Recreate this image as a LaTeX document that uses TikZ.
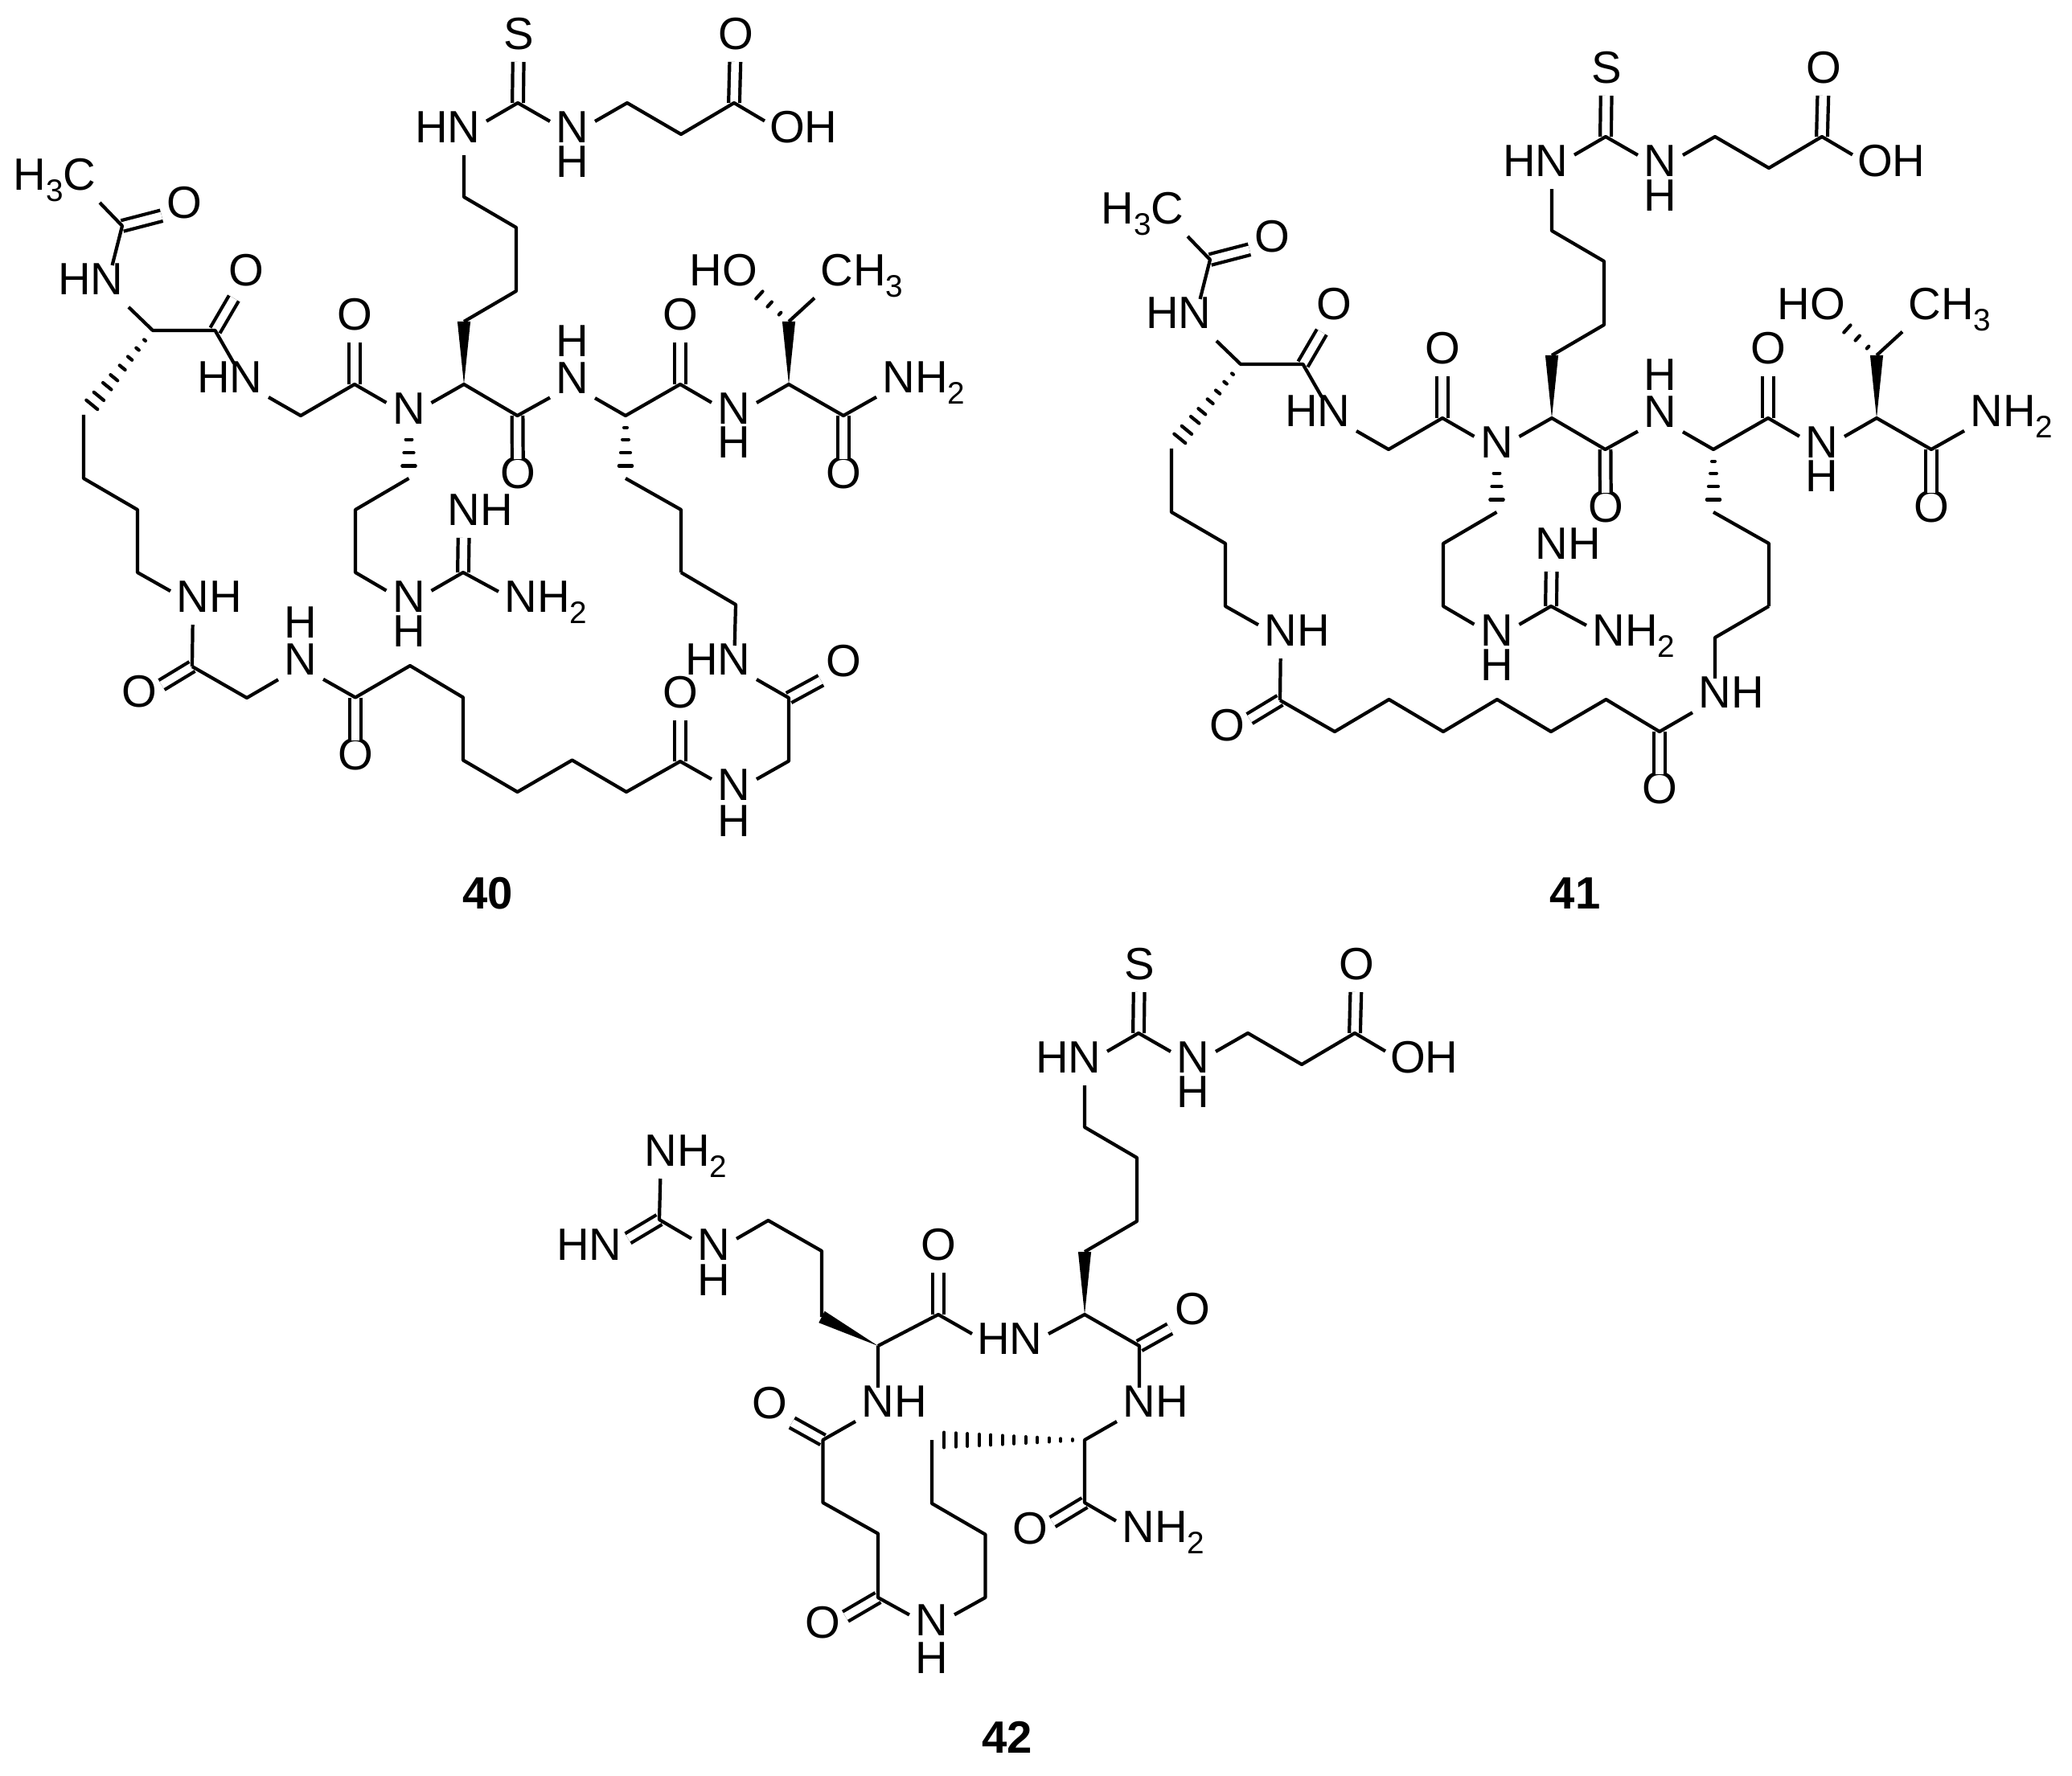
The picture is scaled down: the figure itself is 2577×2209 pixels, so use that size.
\documentclass[tikz,border=0pt]{standalone}
\usepackage{fontspec}
\setmainfont{Liberation Sans}
\usetikzlibrary{calc}

\tikzset{
  atom/.style={rectangle,inner sep=0pt,outer sep=0pt,minimum width=0.56cm,minimum height=0.52cm,
    text height=0.36cm,text depth=0.16cm,font=\fontsize{16}{16}\selectfont},
  molno/.style={inner sep=0pt,font=\fontsize{16}{16}\selectfont\bfseries},
  bond/.style={line width=1.2pt,line join=round},
  dbl/.style={double,double distance=0.095cm,line width=1.2pt},
  hashline/.style={line width=1.2pt,line cap=round}
}

\newcommand{\subn}[1]{\raisebox{-4pt}{\fontsize{11}{11}\selectfont #1}}
\newcommand{\wedgebond}[2]{\fill ($(#1)$) -- ($(#2)!2.3pt!90:(#1)$) -- ($(#2)!2.3pt!-90:(#1)$) -- cycle;}
\newcommand{\hashbond}[3]{\foreach \hpos in {#3} {
  \draw[hashline] ($(#1)!\hpos!(#2)!\hpos*2.9pt!90:(#2)$) -- ($(#1)!\hpos!(#2)!\hpos*2.9pt!-90:(#2)$);}}

% thiourea, acid and lysine arm, in all three
\newcommand{\topchain}{
  \node[atom] (ths) at (645,51) {S};
  \coordinate (thc) at (644,128);
  \node[atom] (thna) at (577,167) {\llap{H}N};
  \node[atom] (thnb) at (712,167) {N};
  \node[atom] (thnbh) at (712,210) {H};
  \coordinate (gla) at (780,128);
  \coordinate (glb) at (847,167);
  \coordinate (acid) at (913,128);
  \node[atom] (acido) at (915,51) {O};
  \node[atom] (acidh) at (979,167) {O\rlap{H}};
  \coordinate (lysa) at (577,245);
  \coordinate (lysb) at (642,283);
  \coordinate (lysc) at (642,362);
  \coordinate (lysd) at (577,400);
  \coordinate (lyse) at (577,478);
  \draw[dbl] (thc) -- (ths); %C=S
  \draw[dbl] (acid) -- (acido); %C=O
  \draw[bond] (thna) -- (thc) -- (thnb) -- (gla) -- (glb) -- (acid) -- (acidh);
  \draw[bond] (thna) -- (lysa) -- (lysb) -- (lysc) -- (lysd);
  \wedgebond{lyse}{lysd}
}

% backbone of 40 and 41
\newcommand{\corechain}{
  \coordinate (ace) at (152,281);
  \node[atom] (acme) at (99,226) {\llap{H\subn{3}}C};
  \node[atom] (aceo) at (229,261) {O};
  \node[atom] (acen) at (133,356) {\llap{H}N};
  \coordinate (lca) at (190,411);
  \coordinate (lco) at (267.5,411);
  \node[atom] (lcoo) at (306,345) {O};
  \node[atom] (gln) at (306,478) {\llap{H}N};
  \coordinate (glc) at (374,517);
  \coordinate (glco) at (441,478);
  \node[atom] (gloo) at (441,400) {O};
  \node[atom] (nme) at (508.5,517) {N};
  \coordinate (lyco) at (643.5,517);
  \node[atom] (lyoo) at (644,597) {O};
  \node[atom] (nhb) at (712,479) {N};
  \node[atom] (nhbh) at (712,433) {H};
  \coordinate (lcb) at (778,517);
  \coordinate (lcbco) at (846,478);
  \node[atom] (lcboo) at (846,400) {O};
  \node[atom] (nhc) at (913,517) {N};
  \node[atom] (nhch) at (913,559) {H};
  \coordinate (tca) at (981,478);
  \coordinate (tcb) at (981,400);
  \node[atom] (tho) at (920,345) {\llap{H}O};
  \node[atom] (tme) at (1041,345) {C\rlap{H\subn{3}}};
  \coordinate (tco) at (1049,517);
  \node[atom] (tcoo) at (1049,597) {O};
  \node[atom] (tnh) at (1118,478) {N\rlap{H\subn{2}}};
  \coordinate (lla) at (104,516);
  \coordinate (llb) at (104,595);
  \coordinate (llc) at (171,634);
  \coordinate (lld) at (171,712);
  \node[atom] (lln) at (240,751) {N\rlap{H}};
  \coordinate (llco) at (239,829);
  \node[atom] (lloo) at (173,869) {O};
  \coordinate (raa) at (508.5,595);
  \coordinate (rab) at (442,634);
  \coordinate (rac) at (442,712);
  \node[atom] (ran) at (508.5,751) {N};
  \node[atom] (ranh) at (508.5,794) {H};
  \coordinate (gc) at (576,712);
  \node[atom] (gn) at (577,643) {N\rlap{H}};
  \node[atom] (gnt) at (648,751) {N\rlap{H\subn{2}}};
  \coordinate (mba) at (778,595);
  \coordinate (mbb) at (847,634);
  \coordinate (mbc) at (847,712);
  \draw[dbl] (ace) -- (aceo);
  \draw[dbl] (lco) -- (lcoo);
  \draw[dbl] (glco) -- (gloo);
  \draw[dbl] (lyco) -- (lyoo);
  \draw[dbl] (lcbco) -- (lcboo);
  \draw[dbl] (tco) -- (tcoo);
  \draw[dbl] (llco) -- (lloo);
  \draw[dbl] (gc) -- (gn);
  \draw[bond] (acme) -- (ace) -- (acen) -- (lca) -- (lco) -- (gln) -- (glc) -- (glco) -- (nme);
  \draw[bond] (nme) -- (lyse) -- (lyco) -- (nhb) -- (lcb) -- (lcbco) -- (nhc) -- (tca) -- (tco) -- (tnh);
  \draw[bond] (tcb) -- (tme);
  \draw[bond] (lla) -- (llb) -- (llc) -- (lld) -- (lln) -- (llco);
  \draw[bond] (raa) -- (rab) -- (rac) -- (ran) -- (gc) -- (gnt);
  \draw[bond] (mba) -- (mbb) -- (mbc);
  \wedgebond{tca}{tcb}
  \hashbond{lca}{lla}{.116,.22,.33,.44,.56,.66,.78,.88}
  \hashbond{nme}{raa}{.38,.59,.8}
  \hashbond{lcb}{mba}{.19,.38,.59,.8}
  \hashbond{tcb}{tho}{.18,.39,.6}
}

\begin{document}
\begin{tikzpicture}[x=0.01cm,y=-0.01cm]
  \useasboundingbox (0,0) rectangle (2577,2209);

  \begin{scope}[name prefix=a-] %40
    \topchain
    \corechain
    \coordinate (rna) at (307,868);
    \node[atom] (rnb) at (374,829) {N};
    \node[atom] (rnbh) at (374,783) {H};
    \coordinate (rnc) at (442,867.5);
    \node[atom] (rnco) at (442,947) {O};
    \coordinate (cha) at (510,828);
    \coordinate (chb) at (576,867.5);
    \coordinate (chc) at (576,945.5);
    \coordinate (chd) at (643.5,985);
    \coordinate (che) at (711.6,945.5);
    \coordinate (chf) at (779,985);
    \coordinate (chg) at (846,947);
    \node[atom] (chgo) at (846,870) {O};
    \node[atom] (lnk) at (913,985) {N};
    \node[atom] (lnkh) at (913,1030) {H};
    \coordinate (lnka) at (981,946.6);
    \coordinate (lnkb) at (981,868);
    \node[atom] (lnko) at (1049,831) {O};
    \node[atom] (lnkn) at (913,829) {\llap{H}N};
    \coordinate (mbd) at (915,752);
    \draw[dbl] (rnc) -- (rnco);
    \draw[dbl] (chg) -- (chgo);
    \draw[dbl] (lnkb) -- (lnko);
    \draw[bond] (llco) -- (rna) -- (rnb) -- (rnc) -- (cha) -- (chb) -- (chc) -- (chd) -- (che) -- (chf) -- (chg) -- (lnk);
    \draw[bond] (lnk) -- (lnka) -- (lnkb) -- (lnkn) -- (mbd) -- (mbc);
    \node[molno] (mol) at (607,1111) {40};
  \end{scope}

  \begin{scope}[shift={(1353,42)},name prefix=b-] %41
    \topchain
    \corechain
    \coordinate (cha) at (307,868);
    \coordinate (chb) at (374.5,828);
    \coordinate (chc) at (442,868);
    \coordinate (chd) at (509,828);
    \coordinate (che) at (576,868);
    \coordinate (chf) at (644.5,828);
    \coordinate (chg) at (711,868);
    \node[atom] (chgo) at (711,947) {O};
    \node[atom] (lnk) at (780,828) {N\rlap{H}};
    \coordinate (mbd) at (780,751);
    \draw[dbl] (chg) -- (chgo);
    \draw[bond] (llco) -- (cha) -- (chb) -- (chc) -- (chd) -- (che) -- (chf) -- (chg) -- (lnk) -- (mbd) -- (mbc);
    \node[molno] (mol) at (606,1069) {41};
  \end{scope}

  \begin{scope}[shift={(772,1157)},name prefix=c-] %42
    \topchain
  \end{scope}

  \coordinate (cco) at (1417,1674);
  \node[atom] (ccoo) at (1483,1637) {O};
  \node[atom] (cn) at (1417,1752) {N\rlap{H}};
  \coordinate (cca) at (1349,1791);
  \coordinate (ccm) at (1349,1869);
  \node[atom] (ccmo) at (1281,1910) {O};
  \node[atom] (ccmn) at (1416,1908) {N\rlap{H\subn{2}}};
  \coordinate (kla) at (1159,1791);
  \coordinate (klb) at (1159,1870);
  \coordinate (klc) at (1225.5,1908.6);
  \coordinate (kld) at (1225.5,1987);
  \node[atom] (kn) at (1159,2024) {N};
  \node[atom] (knh) at (1159,2071) {H};
  \coordinate (suc) at (1092,1987);
  \node[atom] (suco) at (1023.5,2027) {O};
  \coordinate (sub) at (1092,1907.5);
  \coordinate (sua) at (1023.5,1869);
  \coordinate (sud) at (1023.5,1791);
  \node[atom] (sudo) at (957,1754) {O};
  \node[atom] (san) at (1092,1752) {N\rlap{H}};
  \coordinate (arca) at (1092,1674);
  \coordinate (arb) at (1022,1638);
  \coordinate (arc) at (1022,1556);
  \coordinate (ard) at (955.4,1518);
  \node[atom] (arn) at (888,1557) {N};
  \node[atom] (arnh) at (888,1601) {H};
  \coordinate (agc) at (820,1517);
  \node[atom] (agt) at (822,1440) {N\rlap{H\subn{2}}};
  \node[atom] (agl) at (753,1557) {\llap{H}N};
  \coordinate (arco) at (1167,1635);
  \node[atom] (arcoo) at (1167,1557) {O};
  \node[atom] (arh) at (1276,1674) {\llap{H}N};
  \coordinate (arhl) at (1209,1659);

  \draw[dbl] (cco) -- (ccoo);
  \draw[dbl] (ccm) -- (ccmo);
  \draw[dbl] (suc) -- (suco);
  \draw[dbl] (sud) -- (sudo);
  \draw[dbl] (agc) -- (agl);
  \draw[dbl] (arco) -- (arcoo);
  \draw[bond] (arh) -- (c-lyse) -- (cco) -- (cn) -- (cca) -- (ccm) -- (ccmn);
  \draw[bond] (kla) -- (klb) -- (klc) -- (kld) -- (kn) -- (suc) -- (sub) -- (sua) -- (sud) -- (san) -- (arca);
  \draw[bond] (arca) -- (arco) -- (arhl);
  \draw[bond] (arb) -- (arc) -- (ard) -- (arn) -- (agc) -- (agt);
  \wedgebond{arca}{arb}
  \hashbond{cca}{kla}{.08,.157,.233,.31,.386,.462,.538,.614,.69,.767,.843,.92}
  \node[molno] (molc) at (1253,2161) {42};

\end{tikzpicture}
\end{document}
